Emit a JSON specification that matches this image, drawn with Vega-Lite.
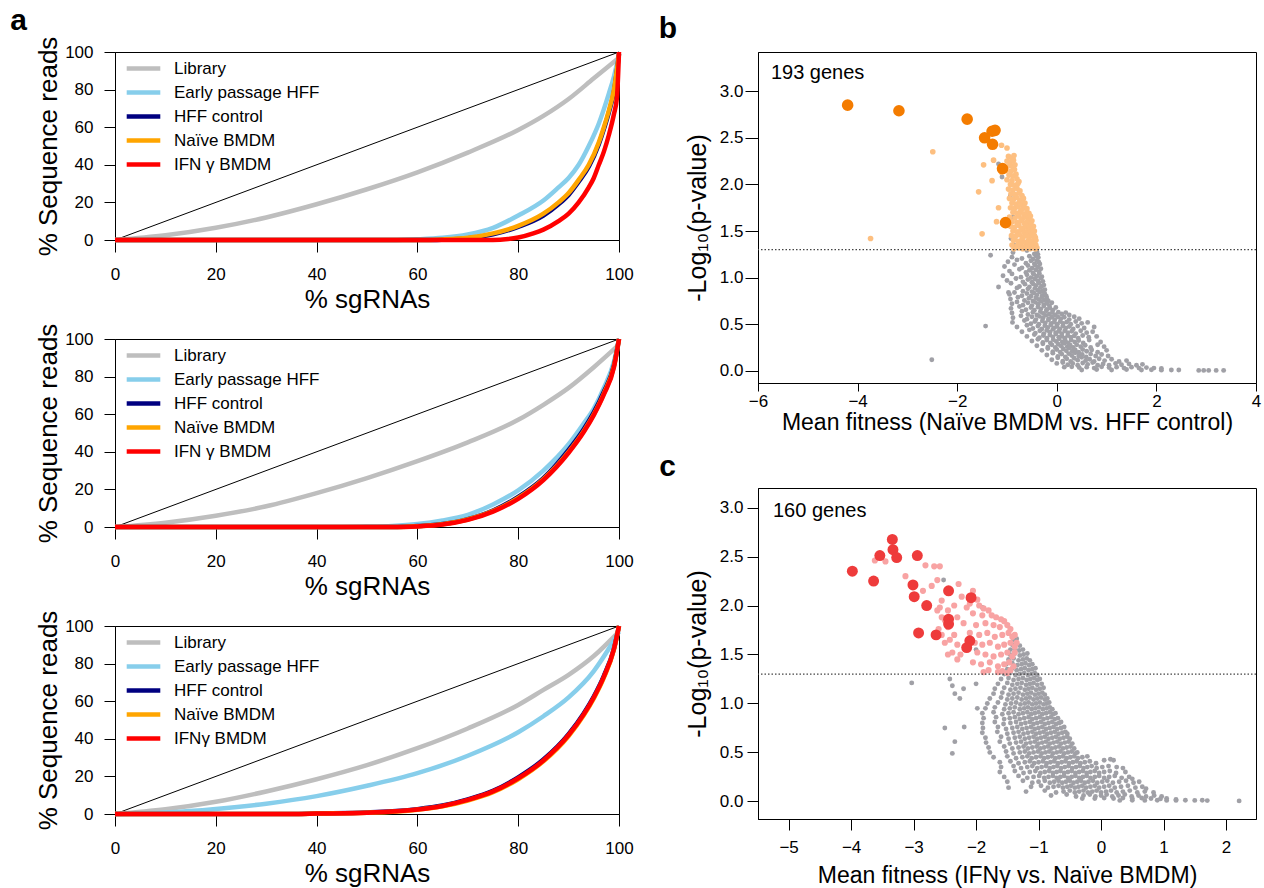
{
"$schema":"https://vega.github.io/schema/vega-lite/v6.json",
"padding":{"left":10,"top":5,"right":0,"bottom":0},
"config":{
 "font":"Liberation Sans",
 "view":{"stroke":"black","strokeWidth":1},
 "axis":{"grid":false,"domainColor":"black","tickColor":"black","labelColor":"black","titleColor":"black","titleFontWeight":"normal","labelFlush":false,"labelOverlap":false,"labelSeparation":0,"labelBound":false,"domainWidth":1,"tickWidth":1,"labelFontSize":17},
 "title":{"color":"black"}
},
"datasets":{
 "diag":[{"x":0,"y":0},{"x":100,"y":100}],
 "curves":[
  {"p":"S1","s":"Library","x":0,"y":0},{"p":"S1","s":"Library","x":10,"y":2.5},{"p":"S1","s":"Library","x":20,"y":6.5},{"p":"S1","s":"Library","x":30,"y":12},{"p":"S1","s":"Library","x":40,"y":19},{"p":"S1","s":"Library","x":50,"y":27},{"p":"S1","s":"Library","x":60,"y":36},{"p":"S1","s":"Library","x":70,"y":46.5},{"p":"S1","s":"Library","x":80,"y":58.5},{"p":"S1","s":"Library","x":85,"y":66},{"p":"S1","s":"Library","x":90,"y":75},{"p":"S1","s":"Library","x":95,"y":86},{"p":"S1","s":"Library","x":100,"y":97},
  {"p":"S1","s":"Early passage HFF","x":0,"y":0},{"p":"S1","s":"Early passage HFF","x":55,"y":0},{"p":"S1","s":"Early passage HFF","x":60,"y":0.4},{"p":"S1","s":"Early passage HFF","x":65,"y":1.2},{"p":"S1","s":"Early passage HFF","x":70,"y":3},{"p":"S1","s":"Early passage HFF","x":75,"y":6.5},{"p":"S1","s":"Early passage HFF","x":80,"y":13},{"p":"S1","s":"Early passage HFF","x":85,"y":21},{"p":"S1","s":"Early passage HFF","x":88,"y":28},{"p":"S1","s":"Early passage HFF","x":90,"y":33},{"p":"S1","s":"Early passage HFF","x":92,"y":40},{"p":"S1","s":"Early passage HFF","x":94,"y":50},{"p":"S1","s":"Early passage HFF","x":96,"y":62},{"p":"S1","s":"Early passage HFF","x":98,"y":78},{"p":"S1","s":"Early passage HFF","x":99,"y":87},{"p":"S1","s":"Early passage HFF","x":100,"y":99},
  {"p":"S1","s":"HFF control","x":0,"y":0},{"p":"S1","s":"HFF control","x":62,"y":0},{"p":"S1","s":"HFF control","x":66,"y":0.3},{"p":"S1","s":"HFF control","x":70,"y":1},{"p":"S1","s":"HFF control","x":75,"y":3},{"p":"S1","s":"HFF control","x":80,"y":7},{"p":"S1","s":"HFF control","x":85,"y":13},{"p":"S1","s":"HFF control","x":88,"y":19},{"p":"S1","s":"HFF control","x":90,"y":24},{"p":"S1","s":"HFF control","x":92,"y":31},{"p":"S1","s":"HFF control","x":94,"y":39},{"p":"S1","s":"HFF control","x":96,"y":51},{"p":"S1","s":"HFF control","x":97,"y":59},{"p":"S1","s":"HFF control","x":98,"y":68},{"p":"S1","s":"HFF control","x":99,"y":79},{"p":"S1","s":"HFF control","x":100,"y":99},
  {"p":"S1","s":"Naïve BMDM","x":0,"y":0},{"p":"S1","s":"Naïve BMDM","x":60,"y":0},{"p":"S1","s":"Naïve BMDM","x":65,"y":0.3},{"p":"S1","s":"Naïve BMDM","x":70,"y":1.2},{"p":"S1","s":"Naïve BMDM","x":75,"y":3.5},{"p":"S1","s":"Naïve BMDM","x":80,"y":7.5},{"p":"S1","s":"Naïve BMDM","x":85,"y":14},{"p":"S1","s":"Naïve BMDM","x":88,"y":20},{"p":"S1","s":"Naïve BMDM","x":90,"y":25},{"p":"S1","s":"Naïve BMDM","x":92,"y":32},{"p":"S1","s":"Naïve BMDM","x":94,"y":40},{"p":"S1","s":"Naïve BMDM","x":96,"y":52},{"p":"S1","s":"Naïve BMDM","x":97,"y":60},{"p":"S1","s":"Naïve BMDM","x":98,"y":69},{"p":"S1","s":"Naïve BMDM","x":99,"y":80},{"p":"S1","s":"Naïve BMDM","x":100,"y":99},
  {"p":"S1","s":"IFN γ BMDM","x":0,"y":0},{"p":"S1","s":"IFN γ BMDM","x":75,"y":0},{"p":"S1","s":"IFN γ BMDM","x":78,"y":0.5},{"p":"S1","s":"IFN γ BMDM","x":80,"y":1.3},{"p":"S1","s":"IFN γ BMDM","x":83,"y":3.5},{"p":"S1","s":"IFN γ BMDM","x":85,"y":5.5},{"p":"S1","s":"IFN γ BMDM","x":88,"y":10},{"p":"S1","s":"IFN γ BMDM","x":90,"y":14},{"p":"S1","s":"IFN γ BMDM","x":92,"y":20},{"p":"S1","s":"IFN γ BMDM","x":94,"y":28},{"p":"S1","s":"IFN γ BMDM","x":95,"y":33},{"p":"S1","s":"IFN γ BMDM","x":96,"y":40},{"p":"S1","s":"IFN γ BMDM","x":97,"y":47},{"p":"S1","s":"IFN γ BMDM","x":98,"y":56},{"p":"S1","s":"IFN γ BMDM","x":99,"y":67},{"p":"S1","s":"IFN γ BMDM","x":99.6,"y":76},{"p":"S1","s":"IFN γ BMDM","x":100,"y":100},

  {"p":"S2","s":"Library","x":0,"y":0},{"p":"S2","s":"Library","x":10,"y":2.3},{"p":"S2","s":"Library","x":20,"y":6},{"p":"S2","s":"Library","x":30,"y":11},{"p":"S2","s":"Library","x":40,"y":18},{"p":"S2","s":"Library","x":50,"y":26},{"p":"S2","s":"Library","x":60,"y":35},{"p":"S2","s":"Library","x":70,"y":45},{"p":"S2","s":"Library","x":80,"y":57},{"p":"S2","s":"Library","x":85,"y":65},{"p":"S2","s":"Library","x":90,"y":74},{"p":"S2","s":"Library","x":95,"y":85},{"p":"S2","s":"Library","x":100,"y":97},
  {"p":"S2","s":"Early passage HFF","x":0,"y":0},{"p":"S2","s":"Early passage HFF","x":45,"y":0},{"p":"S2","s":"Early passage HFF","x":50,"y":0.2},{"p":"S2","s":"Early passage HFF","x":55,"y":0.6},{"p":"S2","s":"Early passage HFF","x":60,"y":1.6},{"p":"S2","s":"Early passage HFF","x":65,"y":3.5},{"p":"S2","s":"Early passage HFF","x":70,"y":6.5},{"p":"S2","s":"Early passage HFF","x":75,"y":12},{"p":"S2","s":"Early passage HFF","x":80,"y":19.5},{"p":"S2","s":"Early passage HFF","x":85,"y":30},{"p":"S2","s":"Early passage HFF","x":90,"y":44},{"p":"S2","s":"Early passage HFF","x":93,"y":55},{"p":"S2","s":"Early passage HFF","x":95,"y":63},{"p":"S2","s":"Early passage HFF","x":97,"y":74},{"p":"S2","s":"Early passage HFF","x":99,"y":88},{"p":"S2","s":"Early passage HFF","x":100,"y":100},
  {"p":"S2","s":"HFF control","x":0,"y":0},{"p":"S2","s":"HFF control","x":55,"y":0},{"p":"S2","s":"HFF control","x":60,"y":0.5},{"p":"S2","s":"HFF control","x":65,"y":1.6},{"p":"S2","s":"HFF control","x":70,"y":4.2},{"p":"S2","s":"HFF control","x":75,"y":8.8},{"p":"S2","s":"HFF control","x":80,"y":16},{"p":"S2","s":"HFF control","x":85,"y":26},{"p":"S2","s":"HFF control","x":90,"y":41},{"p":"S2","s":"HFF control","x":93,"y":52},{"p":"S2","s":"HFF control","x":95,"y":61},{"p":"S2","s":"HFF control","x":97,"y":72},{"p":"S2","s":"HFF control","x":99,"y":86},{"p":"S2","s":"HFF control","x":100,"y":100},
  {"p":"S2","s":"Naïve BMDM","x":0,"y":0},{"p":"S2","s":"Naïve BMDM","x":56,"y":0},{"p":"S2","s":"Naïve BMDM","x":60,"y":0.4},{"p":"S2","s":"Naïve BMDM","x":65,"y":1.5},{"p":"S2","s":"Naïve BMDM","x":70,"y":4},{"p":"S2","s":"Naïve BMDM","x":75,"y":8.5},{"p":"S2","s":"Naïve BMDM","x":80,"y":15.5},{"p":"S2","s":"Naïve BMDM","x":85,"y":25.5},{"p":"S2","s":"Naïve BMDM","x":90,"y":40},{"p":"S2","s":"Naïve BMDM","x":93,"y":51},{"p":"S2","s":"Naïve BMDM","x":95,"y":60},{"p":"S2","s":"Naïve BMDM","x":97,"y":71},{"p":"S2","s":"Naïve BMDM","x":99,"y":85.5},{"p":"S2","s":"Naïve BMDM","x":100,"y":100},
  {"p":"S2","s":"IFN γ BMDM","x":0,"y":0},{"p":"S2","s":"IFN γ BMDM","x":57,"y":0},{"p":"S2","s":"IFN γ BMDM","x":60,"y":0.3},{"p":"S2","s":"IFN γ BMDM","x":65,"y":1.3},{"p":"S2","s":"IFN γ BMDM","x":70,"y":3.8},{"p":"S2","s":"IFN γ BMDM","x":75,"y":8.2},{"p":"S2","s":"IFN γ BMDM","x":80,"y":15},{"p":"S2","s":"IFN γ BMDM","x":85,"y":25},{"p":"S2","s":"IFN γ BMDM","x":90,"y":39.5},{"p":"S2","s":"IFN γ BMDM","x":93,"y":50.5},{"p":"S2","s":"IFN γ BMDM","x":95,"y":59.5},{"p":"S2","s":"IFN γ BMDM","x":97,"y":70.5},{"p":"S2","s":"IFN γ BMDM","x":99,"y":85},{"p":"S2","s":"IFN γ BMDM","x":100,"y":100},

  {"p":"S3","s":"Library","x":0,"y":0},{"p":"S3","s":"Library","x":10,"y":2.5},{"p":"S3","s":"Library","x":20,"y":6.5},{"p":"S3","s":"Library","x":30,"y":12},{"p":"S3","s":"Library","x":40,"y":18.5},{"p":"S3","s":"Library","x":50,"y":26},{"p":"S3","s":"Library","x":60,"y":35},{"p":"S3","s":"Library","x":70,"y":45.5},{"p":"S3","s":"Library","x":80,"y":58},{"p":"S3","s":"Library","x":85,"y":66},{"p":"S3","s":"Library","x":90,"y":74},{"p":"S3","s":"Library","x":95,"y":84},{"p":"S3","s":"Library","x":100,"y":97},
  {"p":"S3","s":"Early passage HFF","x":0,"y":0},{"p":"S3","s":"Early passage HFF","x":10,"y":0.8},{"p":"S3","s":"Early passage HFF","x":20,"y":2.7},{"p":"S3","s":"Early passage HFF","x":30,"y":5.5},{"p":"S3","s":"Early passage HFF","x":40,"y":9.5},{"p":"S3","s":"Early passage HFF","x":50,"y":15},{"p":"S3","s":"Early passage HFF","x":60,"y":21.7},{"p":"S3","s":"Early passage HFF","x":70,"y":31},{"p":"S3","s":"Early passage HFF","x":80,"y":43.5},{"p":"S3","s":"Early passage HFF","x":85,"y":52},{"p":"S3","s":"Early passage HFF","x":90,"y":62},{"p":"S3","s":"Early passage HFF","x":95,"y":76},{"p":"S3","s":"Early passage HFF","x":98,"y":88},{"p":"S3","s":"Early passage HFF","x":100,"y":97},
  {"p":"S3","s":"HFF control","x":0,"y":0},{"p":"S3","s":"HFF control","x":35,"y":0},{"p":"S3","s":"HFF control","x":40,"y":0.25},{"p":"S3","s":"HFF control","x":50,"y":0.8},{"p":"S3","s":"HFF control","x":55,"y":1.4},{"p":"S3","s":"HFF control","x":60,"y":2.6},{"p":"S3","s":"HFF control","x":65,"y":4.5},{"p":"S3","s":"HFF control","x":70,"y":7.8},{"p":"S3","s":"HFF control","x":75,"y":12.3},{"p":"S3","s":"HFF control","x":80,"y":19.5},{"p":"S3","s":"HFF control","x":85,"y":29},{"p":"S3","s":"HFF control","x":90,"y":42.5},{"p":"S3","s":"HFF control","x":93,"y":53.5},{"p":"S3","s":"HFF control","x":95,"y":62.5},{"p":"S3","s":"HFF control","x":97,"y":73.5},{"p":"S3","s":"HFF control","x":99,"y":88},{"p":"S3","s":"HFF control","x":100,"y":100},
  {"p":"S3","s":"Naïve BMDM","x":0,"y":0},{"p":"S3","s":"Naïve BMDM","x":36,"y":0},{"p":"S3","s":"Naïve BMDM","x":40,"y":0.2},{"p":"S3","s":"Naïve BMDM","x":50,"y":0.7},{"p":"S3","s":"Naïve BMDM","x":55,"y":1.2},{"p":"S3","s":"Naïve BMDM","x":60,"y":2.3},{"p":"S3","s":"Naïve BMDM","x":65,"y":4.1},{"p":"S3","s":"Naïve BMDM","x":70,"y":7.2},{"p":"S3","s":"Naïve BMDM","x":75,"y":11.6},{"p":"S3","s":"Naïve BMDM","x":80,"y":18.5},{"p":"S3","s":"Naïve BMDM","x":85,"y":28},{"p":"S3","s":"Naïve BMDM","x":90,"y":41.5},{"p":"S3","s":"Naïve BMDM","x":93,"y":52.5},{"p":"S3","s":"Naïve BMDM","x":95,"y":61.5},{"p":"S3","s":"Naïve BMDM","x":97,"y":72.5},{"p":"S3","s":"Naïve BMDM","x":99,"y":87.5},{"p":"S3","s":"Naïve BMDM","x":100,"y":100},
  {"p":"S3","s":"IFNγ BMDM","x":0,"y":0},{"p":"S3","s":"IFNγ BMDM","x":36,"y":0},{"p":"S3","s":"IFNγ BMDM","x":40,"y":0.2},{"p":"S3","s":"IFNγ BMDM","x":50,"y":0.7},{"p":"S3","s":"IFNγ BMDM","x":55,"y":1.3},{"p":"S3","s":"IFNγ BMDM","x":60,"y":2.4},{"p":"S3","s":"IFNγ BMDM","x":65,"y":4.3},{"p":"S3","s":"IFNγ BMDM","x":70,"y":7.5},{"p":"S3","s":"IFNγ BMDM","x":75,"y":12},{"p":"S3","s":"IFNγ BMDM","x":80,"y":19},{"p":"S3","s":"IFNγ BMDM","x":85,"y":28.5},{"p":"S3","s":"IFNγ BMDM","x":90,"y":42},{"p":"S3","s":"IFNγ BMDM","x":93,"y":53},{"p":"S3","s":"IFNγ BMDM","x":95,"y":62},{"p":"S3","s":"IFNγ BMDM","x":97,"y":73},{"p":"S3","s":"IFNγ BMDM","x":99,"y":87.8},{"p":"S3","s":"IFNγ BMDM","x":100,"y":100}
 ],
 "b":[
  {"x":-0.88,"y":1.27,"k":"g"},{"x":-0.6,"y":1.29,"k":"g"},{"x":-0.45,"y":1.255,"k":"g"},{"x":-0.4,"y":1.28,"k":"g"},{"x":-0.38,"y":1.25,"k":"g"},
  {"x":-1.33,"y":1.24,"k":"g"},{"x":-0.9,"y":1.22,"k":"g"},{"x":-0.7,"y":1.205,"k":"g"},{"x":-0.55,"y":1.23,"k":"g"},{"x":-0.48,"y":1.2,"k":"g"},{"x":-0.42,"y":1.235,"k":"g"},{"x":-0.37,"y":1.215,"k":"g"},
  {"x":-0.98,"y":1.17,"k":"g"},{"x":-0.8,"y":1.19,"k":"g"},{"x":-0.62,"y":1.155,"k":"g"},{"x":-0.52,"y":1.18,"k":"g"},{"x":-0.45,"y":1.15,"k":"g"},{"x":-0.4,"y":1.185,"k":"g"},{"x":-0.36,"y":1.165,"k":"g"},
  {"x":-1.05,"y":1.12,"k":"g"},{"x":-0.85,"y":1.14,"k":"g"},{"x":-0.7,"y":1.105,"k":"g"},{"x":-0.58,"y":1.13,"k":"g"},{"x":-0.5,"y":1.1,"k":"g"},{"x":-0.44,"y":1.135,"k":"g"},{"x":-0.38,"y":1.115,"k":"g"},{"x":-0.34,"y":1.145,"k":"g"},
  {"x":-0.95,"y":1.07,"k":"g"},{"x":-0.75,"y":1.09,"k":"g"},{"x":-0.62,"y":1.055,"k":"g"},{"x":-0.55,"y":1.08,"k":"g"},{"x":-0.48,"y":1.05,"k":"g"},{"x":-0.42,"y":1.085,"k":"g"},{"x":-0.36,"y":1.065,"k":"g"},{"x":-0.32,"y":1.095,"k":"g"},
  {"x":-1.08,"y":1.02,"k":"g"},{"x":-0.9,"y":1.04,"k":"g"},{"x":-0.72,"y":1.005,"k":"g"},{"x":-0.6,"y":1.03,"k":"g"},{"x":-0.52,"y":1.0,"k":"g"},{"x":-0.46,"y":1.035,"k":"g"},{"x":-0.4,"y":1.015,"k":"g"},{"x":-0.35,"y":1.045,"k":"g"},{"x":-0.3,"y":1.01,"k":"g"},
  {"x":-1.0,"y":0.97,"k":"g"},{"x":-0.82,"y":0.99,"k":"g"},{"x":-0.68,"y":0.955,"k":"g"},{"x":-0.58,"y":0.98,"k":"g"},{"x":-0.5,"y":0.95,"k":"g"},{"x":-0.44,"y":0.985,"k":"g"},{"x":-0.38,"y":0.965,"k":"g"},{"x":-0.32,"y":0.995,"k":"g"},{"x":-0.28,"y":0.96,"k":"g"},
  {"x":-1.17,"y":0.9,"k":"g"},{"x":-0.92,"y":0.94,"k":"g"},{"x":-0.75,"y":0.905,"k":"g"},{"x":-0.64,"y":0.93,"k":"g"},{"x":-0.55,"y":0.9,"k":"g"},{"x":-0.48,"y":0.935,"k":"g"},{"x":-0.42,"y":0.915,"k":"g"},{"x":-0.36,"y":0.945,"k":"g"},{"x":-0.3,"y":0.91,"k":"g"},{"x":-0.26,"y":0.92,"k":"g"},
  {"x":-0.97,"y":0.84,"k":"g"},{"x":-0.8,"y":0.89,"k":"g"},{"x":-0.68,"y":0.855,"k":"g"},{"x":-0.58,"y":0.88,"k":"g"},{"x":-0.5,"y":0.85,"k":"g"},{"x":-0.44,"y":0.885,"k":"g"},{"x":-0.38,"y":0.865,"k":"g"},{"x":-0.33,"y":0.895,"k":"g"},{"x":-0.28,"y":0.86,"k":"g"},{"x":-0.24,"y":0.87,"k":"g"},
  {"x":-0.95,"y":0.82,"k":"g"},{"x":-0.85,"y":0.84,"k":"g"},{"x":-0.7,"y":0.805,"k":"g"},{"x":-0.6,"y":0.83,"k":"g"},{"x":-0.52,"y":0.8,"k":"g"},{"x":-0.46,"y":0.835,"k":"g"},{"x":-0.4,"y":0.815,"k":"g"},{"x":-0.34,"y":0.845,"k":"g"},{"x":-0.29,"y":0.81,"k":"g"},{"x":-0.24,"y":0.825,"k":"g"},{"x":-0.21,"y":0.8,"k":"g"},
  {"x":-0.93,"y":0.77,"k":"g"},{"x":-0.78,"y":0.79,"k":"g"},{"x":-0.65,"y":0.755,"k":"g"},{"x":-0.56,"y":0.78,"k":"g"},{"x":-0.48,"y":0.75,"k":"g"},{"x":-0.42,"y":0.785,"k":"g"},{"x":-0.36,"y":0.765,"k":"g"},{"x":-0.3,"y":0.795,"k":"g"},{"x":-0.25,"y":0.76,"k":"g"},{"x":-0.2,"y":0.775,"k":"g"},{"x":-0.17,"y":0.75,"k":"g"},
  {"x":-0.9,"y":0.72,"k":"g"},{"x":-0.8,"y":0.74,"k":"g"},{"x":-0.68,"y":0.705,"k":"g"},{"x":-0.58,"y":0.73,"k":"g"},{"x":-0.5,"y":0.7,"k":"g"},{"x":-0.43,"y":0.735,"k":"g"},{"x":-0.37,"y":0.715,"k":"g"},{"x":-0.31,"y":0.745,"k":"g"},{"x":-0.26,"y":0.71,"k":"g"},{"x":-0.2,"y":0.725,"k":"g"},{"x":-0.15,"y":0.7,"k":"g"},{"x":-0.1,"y":0.73,"k":"g"},
  {"x":-0.92,"y":0.67,"k":"g"},{"x":-0.75,"y":0.69,"k":"g"},{"x":-0.62,"y":0.655,"k":"g"},{"x":-0.52,"y":0.68,"k":"g"},{"x":-0.45,"y":0.65,"k":"g"},{"x":-0.38,"y":0.685,"k":"g"},{"x":-0.32,"y":0.665,"k":"g"},{"x":-0.26,"y":0.695,"k":"g"},{"x":-0.2,"y":0.66,"k":"g"},{"x":-0.14,"y":0.675,"k":"g"},{"x":-0.08,"y":0.65,"k":"g"},{"x":-0.02,"y":0.68,"k":"g"},
  {"x":-0.9,"y":0.62,"k":"g"},{"x":-0.7,"y":0.64,"k":"g"},{"x":-0.58,"y":0.605,"k":"g"},{"x":-0.48,"y":0.63,"k":"g"},{"x":-0.4,"y":0.6,"k":"g"},{"x":-0.33,"y":0.635,"k":"g"},{"x":-0.27,"y":0.615,"k":"g"},{"x":-0.21,"y":0.645,"k":"g"},{"x":-0.15,"y":0.61,"k":"g"},{"x":-0.09,"y":0.625,"k":"g"},{"x":-0.03,"y":0.6,"k":"g"},{"x":0.03,"y":0.63,"k":"g"},{"x":0.1,"y":0.61,"k":"g"},{"x":0.18,"y":0.625,"k":"g"},{"x":0.25,"y":0.6,"k":"g"},
  {"x":-0.88,"y":0.57,"k":"g"},{"x":-0.72,"y":0.59,"k":"g"},{"x":-0.6,"y":0.555,"k":"g"},{"x":-0.5,"y":0.58,"k":"g"},{"x":-0.42,"y":0.55,"k":"g"},{"x":-0.35,"y":0.585,"k":"g"},{"x":-0.28,"y":0.565,"k":"g"},{"x":-0.22,"y":0.595,"k":"g"},{"x":-0.16,"y":0.56,"k":"g"},{"x":-0.1,"y":0.575,"k":"g"},{"x":-0.04,"y":0.55,"k":"g"},{"x":0.02,"y":0.58,"k":"g"},{"x":0.08,"y":0.56,"k":"g"},{"x":0.15,"y":0.575,"k":"g"},{"x":0.25,"y":0.55,"k":"g"},{"x":0.35,"y":0.58,"k":"g"},{"x":0.45,"y":0.56,"k":"g"},
  {"x":-0.89,"y":0.52,"k":"g"},{"x":-0.65,"y":0.54,"k":"g"},{"x":-0.52,"y":0.505,"k":"g"},{"x":-0.44,"y":0.53,"k":"g"},{"x":-0.36,"y":0.5,"k":"g"},{"x":-0.29,"y":0.535,"k":"g"},{"x":-0.23,"y":0.515,"k":"g"},{"x":-0.17,"y":0.545,"k":"g"},{"x":-0.11,"y":0.51,"k":"g"},{"x":-0.05,"y":0.525,"k":"g"},{"x":0.01,"y":0.5,"k":"g"},{"x":0.07,"y":0.53,"k":"g"},{"x":0.13,"y":0.51,"k":"g"},{"x":0.2,"y":0.525,"k":"g"},{"x":0.28,"y":0.5,"k":"g"},{"x":0.38,"y":0.53,"k":"g"},{"x":0.5,"y":0.51,"k":"g"},{"x":0.62,"y":0.52,"k":"g"},
  {"x":-1.43,"y":0.48,"k":"g"},{"x":-0.8,"y":0.47,"k":"g"},{"x":-0.6,"y":0.49,"k":"g"},{"x":-0.48,"y":0.455,"k":"g"},{"x":-0.38,"y":0.48,"k":"g"},{"x":-0.3,"y":0.45,"k":"g"},{"x":-0.24,"y":0.485,"k":"g"},{"x":-0.18,"y":0.465,"k":"g"},{"x":-0.12,"y":0.495,"k":"g"},{"x":-0.06,"y":0.46,"k":"g"},{"x":0.0,"y":0.475,"k":"g"},{"x":0.06,"y":0.45,"k":"g"},{"x":0.12,"y":0.48,"k":"g"},{"x":0.18,"y":0.46,"k":"g"},{"x":0.25,"y":0.475,"k":"g"},{"x":0.33,"y":0.45,"k":"g"},{"x":0.42,"y":0.48,"k":"g"},{"x":0.55,"y":0.46,"k":"g"},{"x":0.75,"y":0.47,"k":"g"},
  {"x":-0.7,"y":0.42,"k":"g"},{"x":-0.55,"y":0.44,"k":"g"},{"x":-0.43,"y":0.405,"k":"g"},{"x":-0.34,"y":0.43,"k":"g"},{"x":-0.26,"y":0.4,"k":"g"},{"x":-0.2,"y":0.435,"k":"g"},{"x":-0.14,"y":0.415,"k":"g"},{"x":-0.08,"y":0.445,"k":"g"},{"x":-0.02,"y":0.41,"k":"g"},{"x":0.04,"y":0.425,"k":"g"},{"x":0.1,"y":0.4,"k":"g"},{"x":0.16,"y":0.43,"k":"g"},{"x":0.22,"y":0.41,"k":"g"},{"x":0.3,"y":0.425,"k":"g"},{"x":0.38,"y":0.4,"k":"g"},{"x":0.48,"y":0.43,"k":"g"},{"x":0.6,"y":0.41,"k":"g"},{"x":0.72,"y":0.42,"k":"g"},
  {"x":-0.6,"y":0.37,"k":"g"},{"x":-0.45,"y":0.39,"k":"g"},{"x":-0.35,"y":0.355,"k":"g"},{"x":-0.27,"y":0.38,"k":"g"},{"x":-0.2,"y":0.35,"k":"g"},{"x":-0.14,"y":0.385,"k":"g"},{"x":-0.08,"y":0.365,"k":"g"},{"x":-0.02,"y":0.395,"k":"g"},{"x":0.04,"y":0.36,"k":"g"},{"x":0.1,"y":0.375,"k":"g"},{"x":0.16,"y":0.35,"k":"g"},{"x":0.22,"y":0.38,"k":"g"},{"x":0.28,"y":0.36,"k":"g"},{"x":0.35,"y":0.375,"k":"g"},{"x":0.43,"y":0.35,"k":"g"},{"x":0.52,"y":0.38,"k":"g"},{"x":0.64,"y":0.36,"k":"g"},{"x":0.8,"y":0.37,"k":"g"},
  {"x":-0.5,"y":0.32,"k":"g"},{"x":-0.38,"y":0.34,"k":"g"},{"x":-0.28,"y":0.305,"k":"g"},{"x":-0.2,"y":0.33,"k":"g"},{"x":-0.13,"y":0.3,"k":"g"},{"x":-0.07,"y":0.335,"k":"g"},{"x":-0.01,"y":0.315,"k":"g"},{"x":0.05,"y":0.345,"k":"g"},{"x":0.11,"y":0.31,"k":"g"},{"x":0.17,"y":0.325,"k":"g"},{"x":0.23,"y":0.3,"k":"g"},{"x":0.29,"y":0.33,"k":"g"},{"x":0.36,"y":0.31,"k":"g"},{"x":0.44,"y":0.325,"k":"g"},{"x":0.53,"y":0.3,"k":"g"},{"x":0.65,"y":0.33,"k":"g"},{"x":0.88,"y":0.31,"k":"g"},
  {"x":-0.4,"y":0.27,"k":"g"},{"x":-0.28,"y":0.29,"k":"g"},{"x":-0.18,"y":0.255,"k":"g"},{"x":-0.1,"y":0.28,"k":"g"},{"x":-0.03,"y":0.25,"k":"g"},{"x":0.03,"y":0.285,"k":"g"},{"x":0.09,"y":0.265,"k":"g"},{"x":0.15,"y":0.295,"k":"g"},{"x":0.21,"y":0.26,"k":"g"},{"x":0.27,"y":0.275,"k":"g"},{"x":0.33,"y":0.25,"k":"g"},{"x":0.4,"y":0.28,"k":"g"},{"x":0.48,"y":0.26,"k":"g"},{"x":0.57,"y":0.275,"k":"g"},{"x":0.68,"y":0.25,"k":"g"},{"x":0.82,"y":0.28,"k":"g"},{"x":0.95,"y":0.26,"k":"g"},
  {"x":-0.3,"y":0.22,"k":"g"},{"x":-0.18,"y":0.24,"k":"g"},{"x":-0.08,"y":0.205,"k":"g"},{"x":0.0,"y":0.23,"k":"g"},{"x":0.07,"y":0.2,"k":"g"},{"x":0.13,"y":0.235,"k":"g"},{"x":0.19,"y":0.215,"k":"g"},{"x":0.25,"y":0.245,"k":"g"},{"x":0.31,"y":0.21,"k":"g"},{"x":0.37,"y":0.225,"k":"g"},{"x":0.44,"y":0.2,"k":"g"},{"x":0.52,"y":0.23,"k":"g"},{"x":0.6,"y":0.21,"k":"g"},{"x":0.7,"y":0.225,"k":"g"},{"x":0.82,"y":0.2,"k":"g"},{"x":1.0,"y":0.22,"k":"g"},
  {"x":-0.2,"y":0.17,"k":"g"},{"x":-0.08,"y":0.19,"k":"g"},{"x":0.02,"y":0.155,"k":"g"},{"x":0.1,"y":0.18,"k":"g"},{"x":0.17,"y":0.15,"k":"g"},{"x":0.24,"y":0.185,"k":"g"},{"x":0.3,"y":0.165,"k":"g"},{"x":0.37,"y":0.195,"k":"g"},{"x":0.44,"y":0.16,"k":"g"},{"x":0.51,"y":0.175,"k":"g"},{"x":0.59,"y":0.15,"k":"g"},{"x":0.68,"y":0.18,"k":"g"},{"x":0.78,"y":0.16,"k":"g"},{"x":0.9,"y":0.175,"k":"g"},{"x":1.03,"y":0.16,"k":"g"},
  {"x":-2.51,"y":0.12,"k":"g"},{"x":-0.1,"y":0.12,"k":"g"},{"x":0.02,"y":0.14,"k":"g"},{"x":0.12,"y":0.105,"k":"g"},{"x":0.2,"y":0.13,"k":"g"},{"x":0.28,"y":0.1,"k":"g"},{"x":0.35,"y":0.135,"k":"g"},{"x":0.42,"y":0.115,"k":"g"},{"x":0.5,"y":0.145,"k":"g"},{"x":0.58,"y":0.11,"k":"g"},{"x":0.66,"y":0.125,"k":"g"},{"x":0.75,"y":0.1,"k":"g"},{"x":0.85,"y":0.13,"k":"g"},{"x":0.96,"y":0.11,"k":"g"},{"x":1.1,"y":0.125,"k":"g"},{"x":1.25,"y":0.1,"k":"g"},{"x":1.4,"y":0.11,"k":"g"},
  {"x":0.0,"y":0.08,"k":"g"},{"x":0.12,"y":0.09,"k":"g"},{"x":0.22,"y":0.065,"k":"g"},{"x":0.32,"y":0.08,"k":"g"},{"x":0.42,"y":0.06,"k":"g"},{"x":0.52,"y":0.085,"k":"g"},{"x":0.62,"y":0.07,"k":"g"},{"x":0.72,"y":0.09,"k":"g"},{"x":0.82,"y":0.06,"k":"g"},{"x":0.93,"y":0.075,"k":"g"},{"x":1.05,"y":0.06,"k":"g"},{"x":1.18,"y":0.08,"k":"g"},{"x":1.3,"y":0.065,"k":"g"},{"x":1.45,"y":0.075,"k":"g"},{"x":1.6,"y":0.06,"k":"g"},{"x":1.72,"y":0.07,"k":"g"},
  {"x":0.15,"y":0.04,"k":"g"},{"x":0.3,"y":0.045,"k":"g"},{"x":0.45,"y":0.035,"k":"g"},{"x":0.6,"y":0.04,"k":"g"},{"x":0.75,"y":0.03,"k":"g"},{"x":0.9,"y":0.045,"k":"g"},{"x":1.05,"y":0.035,"k":"g"},{"x":1.2,"y":0.04,"k":"g"},{"x":1.35,"y":0.03,"k":"g"},{"x":1.5,"y":0.04,"k":"g"},{"x":1.65,"y":0.03,"k":"g"},{"x":1.8,"y":0.035,"k":"g"},{"x":1.95,"y":0.03,"k":"g"},{"x":2.1,"y":0.025,"k":"g"},
  {"x":0.5,"y":0.01,"k":"g"},{"x":0.8,"y":0.015,"k":"g"},{"x":1.1,"y":0.01,"k":"g"},{"x":1.4,"y":0.015,"k":"g"},{"x":1.7,"y":0.01,"k":"g"},{"x":1.9,"y":0.012,"k":"g"},{"x":2.1,"y":0.008,"k":"g"},{"x":2.3,"y":0.01,"k":"g"},{"x":2.45,"y":0.01,"k":"g"},{"x":2.85,"y":0.005,"k":"g"},{"x":2.95,"y":0.005,"k":"g"},{"x":3.05,"y":0.005,"k":"g"},{"x":3.2,"y":0.005,"k":"g"},{"x":3.35,"y":0.005,"k":"g"},
  {"x":-1.17,"y":2.22,"k":"g"},{"x":-1.1,"y":2.08,"k":"g"},{"x":-0.93,"y":1.88,"k":"g"},{"x":-0.88,"y":1.65,"k":"g"},{"x":-0.92,"y":1.42,"k":"g"},{"x":-0.86,"y":1.35,"k":"g"},
  {"x":-3.74,"y":1.42,"k":"l"},{"x":-2.49,"y":2.35,"k":"l"},{"x":-1.47,"y":2.21,"k":"l"},{"x":-1.57,"y":1.92,"k":"l"},{"x":-1.3,"y":2.04,"k":"l"},{"x":-1.5,"y":1.47,"k":"l"},{"x":-1.17,"y":1.75,"k":"l"},{"x":-1.21,"y":1.6,"k":"l"},{"x":-1.11,"y":2.42,"k":"l"},{"x":-1.0,"y":2.39,"k":"l"},{"x":-1.27,"y":2.26,"k":"l"},{"x":-1.11,"y":2.13,"k":"l"},
  {"x":-0.97,"y":2.3,"k":"l"},{"x":-0.9,"y":2.28,"k":"l"},{"x":-0.86,"y":2.31,"k":"l"},
  {"x":-1.0,"y":2.25,"k":"l"},{"x":-0.93,"y":2.24,"k":"l"},{"x":-0.87,"y":2.26,"k":"l"},
  {"x":-0.95,"y":2.2,"k":"l"},{"x":-0.88,"y":2.19,"k":"l"},{"x":-0.84,"y":2.21,"k":"l"},
  {"x":-1.02,"y":2.15,"k":"l"},{"x":-0.92,"y":2.14,"k":"l"},{"x":-0.85,"y":2.16,"k":"l"},
  {"x":-0.96,"y":2.1,"k":"l"},{"x":-0.88,"y":2.09,"k":"l"},{"x":-0.82,"y":2.11,"k":"l"},
  {"x":-1.0,"y":2.05,"k":"l"},{"x":-0.9,"y":2.04,"k":"l"},{"x":-0.8,"y":2.06,"k":"l"},{"x":-0.76,"y":2.03,"k":"l"},
  {"x":-0.93,"y":2.0,"k":"l"},{"x":-0.85,"y":1.99,"k":"l"},{"x":-0.78,"y":2.01,"k":"l"},
  {"x":-0.97,"y":1.95,"k":"l"},{"x":-0.88,"y":1.94,"k":"l"},{"x":-0.8,"y":1.96,"k":"l"},{"x":-0.74,"y":1.93,"k":"l"},
  {"x":-0.92,"y":1.9,"k":"l"},{"x":-0.84,"y":1.89,"k":"l"},{"x":-0.76,"y":1.91,"k":"l"},{"x":-0.7,"y":1.88,"k":"l"},
  {"x":-0.95,"y":1.85,"k":"l"},{"x":-0.87,"y":1.84,"k":"l"},{"x":-0.8,"y":1.86,"k":"l"},{"x":-0.73,"y":1.83,"k":"l"},{"x":-0.67,"y":1.85,"k":"l"},
  {"x":-0.9,"y":1.8,"k":"l"},{"x":-0.82,"y":1.79,"k":"l"},{"x":-0.75,"y":1.81,"k":"l"},{"x":-0.69,"y":1.78,"k":"l"},{"x":-0.64,"y":1.8,"k":"l"},
  {"x":-0.93,"y":1.75,"k":"l"},{"x":-0.85,"y":1.74,"k":"l"},{"x":-0.78,"y":1.76,"k":"l"},{"x":-0.7,"y":1.73,"k":"l"},{"x":-0.64,"y":1.75,"k":"l"},{"x":-0.6,"y":1.74,"k":"l"},
  {"x":-0.88,"y":1.7,"k":"l"},{"x":-0.8,"y":1.69,"k":"l"},{"x":-0.73,"y":1.71,"k":"l"},{"x":-0.66,"y":1.68,"k":"l"},{"x":-0.6,"y":1.7,"k":"l"},{"x":-0.56,"y":1.69,"k":"l"},
  {"x":-0.95,"y":1.65,"k":"l"},{"x":-0.84,"y":1.64,"k":"l"},{"x":-0.76,"y":1.66,"k":"l"},{"x":-0.69,"y":1.63,"k":"l"},{"x":-0.62,"y":1.65,"k":"l"},{"x":-0.57,"y":1.64,"k":"l"},{"x":-0.53,"y":1.66,"k":"l"},
  {"x":-0.9,"y":1.6,"k":"l"},{"x":-0.8,"y":1.59,"k":"l"},{"x":-0.72,"y":1.61,"k":"l"},{"x":-0.65,"y":1.58,"k":"l"},{"x":-0.59,"y":1.6,"k":"l"},{"x":-0.54,"y":1.59,"k":"l"},{"x":-0.5,"y":1.61,"k":"l"},
  {"x":-0.93,"y":1.55,"k":"l"},{"x":-0.85,"y":1.54,"k":"l"},{"x":-0.76,"y":1.56,"k":"l"},{"x":-0.68,"y":1.53,"k":"l"},{"x":-0.62,"y":1.55,"k":"l"},{"x":-0.56,"y":1.54,"k":"l"},{"x":-0.51,"y":1.56,"k":"l"},{"x":-0.47,"y":1.55,"k":"l"},
  {"x":-0.88,"y":1.5,"k":"l"},{"x":-0.8,"y":1.49,"k":"l"},{"x":-0.72,"y":1.51,"k":"l"},{"x":-0.65,"y":1.48,"k":"l"},{"x":-0.59,"y":1.5,"k":"l"},{"x":-0.53,"y":1.49,"k":"l"},{"x":-0.48,"y":1.51,"k":"l"},{"x":-0.45,"y":1.5,"k":"l"},
  {"x":-0.91,"y":1.45,"k":"l"},{"x":-0.83,"y":1.44,"k":"l"},{"x":-0.75,"y":1.46,"k":"l"},{"x":-0.68,"y":1.43,"k":"l"},{"x":-0.61,"y":1.45,"k":"l"},{"x":-0.55,"y":1.44,"k":"l"},{"x":-0.5,"y":1.46,"k":"l"},{"x":-0.45,"y":1.45,"k":"l"},{"x":-0.43,"y":1.43,"k":"l"},
  {"x":-0.87,"y":1.4,"k":"l"},{"x":-0.78,"y":1.39,"k":"l"},{"x":-0.7,"y":1.41,"k":"l"},{"x":-0.63,"y":1.38,"k":"l"},{"x":-0.57,"y":1.4,"k":"l"},{"x":-0.51,"y":1.39,"k":"l"},{"x":-0.46,"y":1.41,"k":"l"},{"x":-0.42,"y":1.4,"k":"l"},
  {"x":-0.9,"y":1.35,"k":"l"},{"x":-0.8,"y":1.34,"k":"l"},{"x":-0.72,"y":1.36,"k":"l"},{"x":-0.65,"y":1.33,"k":"l"},{"x":-0.58,"y":1.35,"k":"l"},{"x":-0.52,"y":1.34,"k":"l"},{"x":-0.47,"y":1.36,"k":"l"},{"x":-0.42,"y":1.35,"k":"l"},
  {"x":-0.86,"y":1.31,"k":"l"},{"x":-0.76,"y":1.32,"k":"l"},{"x":-0.68,"y":1.31,"k":"l"},{"x":-0.6,"y":1.32,"k":"l"},{"x":-0.54,"y":1.31,"k":"l"},{"x":-0.48,"y":1.32,"k":"l"},{"x":-0.43,"y":1.31,"k":"l"},{"x":-0.4,"y":1.32,"k":"l"},
  {"x":-4.2,"y":2.85,"k":"h"},{"x":-3.17,"y":2.79,"k":"h"},{"x":-1.8,"y":2.7,"k":"h"},{"x":-1.3,"y":2.57,"k":"h"},{"x":-1.24,"y":2.58,"k":"h"},{"x":-1.45,"y":2.5,"k":"h"},{"x":-1.29,"y":2.43,"k":"h"},{"x":-1.09,"y":2.17,"k":"h"},{"x":-1.03,"y":1.59,"k":"h"}
 ],
 "c":[
  {"x":-1.4,"y":1.65,"k":"g"},{"x":-1.35,"y":1.66,"k":"g"},
  {"x":-1.42,"y":1.6,"k":"g"},{"x":-1.36,"y":1.61,"k":"g"},{"x":-1.3,"y":1.59,"k":"g"},
  {"x":-1.45,"y":1.55,"k":"g"},{"x":-1.38,"y":1.56,"k":"g"},{"x":-1.31,"y":1.54,"k":"g"},{"x":-1.25,"y":1.55,"k":"g"},
  {"x":-1.46,"y":1.5,"k":"g"},{"x":-1.38,"y":1.51,"k":"g"},{"x":-1.3,"y":1.49,"k":"g"},{"x":-1.24,"y":1.5,"k":"g"},{"x":-1.18,"y":1.51,"k":"g"},
  {"x":-1.48,"y":1.45,"k":"g"},{"x":-1.4,"y":1.46,"k":"g"},{"x":-1.32,"y":1.44,"k":"g"},{"x":-1.25,"y":1.45,"k":"g"},{"x":-1.19,"y":1.46,"k":"g"},{"x":-1.14,"y":1.44,"k":"g"},
  {"x":-1.52,"y":1.4,"k":"g"},{"x":-1.42,"y":1.41,"k":"g"},{"x":-1.34,"y":1.39,"k":"g"},{"x":-1.27,"y":1.4,"k":"g"},{"x":-1.21,"y":1.41,"k":"g"},{"x":-1.15,"y":1.39,"k":"g"},{"x":-1.1,"y":1.4,"k":"g"},
  {"x":-1.5,"y":1.35,"k":"g"},{"x":-1.42,"y":1.36,"k":"g"},{"x":-1.35,"y":1.34,"k":"g"},{"x":-1.28,"y":1.35,"k":"g"},{"x":-1.22,"y":1.36,"k":"g"},{"x":-1.16,"y":1.34,"k":"g"},{"x":-1.1,"y":1.35,"k":"g"},{"x":-1.05,"y":1.36,"k":"g"},
  {"x":-1.55,"y":1.3,"k":"g"},{"x":-1.45,"y":1.31,"k":"g"},{"x":-1.37,"y":1.29,"k":"g"},{"x":-1.3,"y":1.3,"k":"g"},{"x":-1.23,"y":1.31,"k":"g"},{"x":-1.17,"y":1.29,"k":"g"},{"x":-1.11,"y":1.3,"k":"g"},{"x":-1.06,"y":1.31,"k":"g"},{"x":-1.02,"y":1.29,"k":"g"},
  {"x":-1.6,"y":1.25,"k":"g"},{"x":-1.48,"y":1.26,"k":"g"},{"x":-1.4,"y":1.24,"k":"g"},{"x":-1.32,"y":1.25,"k":"g"},{"x":-1.25,"y":1.26,"k":"g"},{"x":-1.19,"y":1.24,"k":"g"},{"x":-1.13,"y":1.25,"k":"g"},{"x":-1.07,"y":1.26,"k":"g"},{"x":-1.02,"y":1.24,"k":"g"},{"x":-0.98,"y":1.25,"k":"g"},
  {"x":-1.65,"y":1.2,"k":"g"},{"x":-1.5,"y":1.21,"k":"g"},{"x":-1.42,"y":1.19,"k":"g"},{"x":-1.34,"y":1.2,"k":"g"},{"x":-1.27,"y":1.21,"k":"g"},{"x":-1.2,"y":1.19,"k":"g"},{"x":-1.14,"y":1.2,"k":"g"},{"x":-1.08,"y":1.21,"k":"g"},{"x":-1.02,"y":1.19,"k":"g"},{"x":-0.95,"y":1.2,"k":"g"},
  {"x":-1.7,"y":1.15,"k":"g"},{"x":-1.55,"y":1.16,"k":"g"},{"x":-1.45,"y":1.14,"k":"g"},{"x":-1.37,"y":1.15,"k":"g"},{"x":-1.29,"y":1.16,"k":"g"},{"x":-1.22,"y":1.14,"k":"g"},{"x":-1.16,"y":1.15,"k":"g"},{"x":-1.1,"y":1.16,"k":"g"},{"x":-1.04,"y":1.14,"k":"g"},{"x":-0.98,"y":1.15,"k":"g"},{"x":-0.92,"y":1.16,"k":"g"},
  {"x":-1.72,"y":1.1,"k":"g"},{"x":-1.58,"y":1.11,"k":"g"},{"x":-1.48,"y":1.09,"k":"g"},{"x":-1.4,"y":1.1,"k":"g"},{"x":-1.32,"y":1.11,"k":"g"},{"x":-1.25,"y":1.09,"k":"g"},{"x":-1.18,"y":1.1,"k":"g"},{"x":-1.12,"y":1.11,"k":"g"},{"x":-1.06,"y":1.09,"k":"g"},{"x":-1.0,"y":1.1,"k":"g"},{"x":-0.94,"y":1.11,"k":"g"},{"x":-0.9,"y":1.09,"k":"g"},
  {"x":-1.78,"y":1.05,"k":"g"},{"x":-1.6,"y":1.06,"k":"g"},{"x":-1.5,"y":1.04,"k":"g"},{"x":-1.42,"y":1.05,"k":"g"},{"x":-1.34,"y":1.06,"k":"g"},{"x":-1.27,"y":1.04,"k":"g"},{"x":-1.2,"y":1.05,"k":"g"},{"x":-1.14,"y":1.06,"k":"g"},{"x":-1.08,"y":1.04,"k":"g"},{"x":-1.02,"y":1.05,"k":"g"},{"x":-0.96,"y":1.06,"k":"g"},{"x":-0.9,"y":1.04,"k":"g"},{"x":-0.86,"y":1.05,"k":"g"},
  {"x":-1.82,"y":1.0,"k":"g"},{"x":-1.65,"y":1.01,"k":"g"},{"x":-1.53,"y":0.99,"k":"g"},{"x":-1.44,"y":1.0,"k":"g"},{"x":-1.36,"y":1.01,"k":"g"},{"x":-1.29,"y":0.99,"k":"g"},{"x":-1.22,"y":1.0,"k":"g"},{"x":-1.16,"y":1.01,"k":"g"},{"x":-1.1,"y":0.99,"k":"g"},{"x":-1.04,"y":1.0,"k":"g"},{"x":-0.98,"y":1.01,"k":"g"},{"x":-0.92,"y":0.99,"k":"g"},{"x":-0.87,"y":1.0,"k":"g"},{"x":-0.83,"y":1.01,"k":"g"},
  {"x":-1.85,"y":0.95,"k":"g"},{"x":-1.7,"y":0.96,"k":"g"},{"x":-1.55,"y":0.94,"k":"g"},{"x":-1.46,"y":0.95,"k":"g"},{"x":-1.38,"y":0.96,"k":"g"},{"x":-1.3,"y":0.94,"k":"g"},{"x":-1.23,"y":0.95,"k":"g"},{"x":-1.17,"y":0.96,"k":"g"},{"x":-1.11,"y":0.94,"k":"g"},{"x":-1.05,"y":0.95,"k":"g"},{"x":-0.99,"y":0.96,"k":"g"},{"x":-0.93,"y":0.94,"k":"g"},{"x":-0.87,"y":0.95,"k":"g"},{"x":-0.82,"y":0.96,"k":"g"},{"x":-0.78,"y":0.94,"k":"g"},
  {"x":-1.9,"y":0.9,"k":"g"},{"x":-1.72,"y":0.91,"k":"g"},{"x":-1.58,"y":0.89,"k":"g"},{"x":-1.48,"y":0.9,"k":"g"},{"x":-1.4,"y":0.91,"k":"g"},{"x":-1.32,"y":0.89,"k":"g"},{"x":-1.25,"y":0.9,"k":"g"},{"x":-1.18,"y":0.91,"k":"g"},{"x":-1.12,"y":0.89,"k":"g"},{"x":-1.06,"y":0.9,"k":"g"},{"x":-1.0,"y":0.91,"k":"g"},{"x":-0.94,"y":0.89,"k":"g"},{"x":-0.88,"y":0.9,"k":"g"},{"x":-0.82,"y":0.91,"k":"g"},{"x":-0.77,"y":0.89,"k":"g"},{"x":-0.73,"y":0.9,"k":"g"},
  {"x":-1.88,"y":0.85,"k":"g"},{"x":-1.68,"y":0.86,"k":"g"},{"x":-1.55,"y":0.84,"k":"g"},{"x":-1.46,"y":0.85,"k":"g"},{"x":-1.38,"y":0.86,"k":"g"},{"x":-1.3,"y":0.84,"k":"g"},{"x":-1.23,"y":0.85,"k":"g"},{"x":-1.16,"y":0.86,"k":"g"},{"x":-1.1,"y":0.84,"k":"g"},{"x":-1.04,"y":0.85,"k":"g"},{"x":-0.98,"y":0.86,"k":"g"},{"x":-0.92,"y":0.84,"k":"g"},{"x":-0.86,"y":0.85,"k":"g"},{"x":-0.8,"y":0.86,"k":"g"},{"x":-0.74,"y":0.84,"k":"g"},{"x":-0.69,"y":0.85,"k":"g"},
  {"x":-1.9,"y":0.8,"k":"g"},{"x":-1.7,"y":0.81,"k":"g"},{"x":-1.56,"y":0.79,"k":"g"},{"x":-1.45,"y":0.8,"k":"g"},{"x":-1.36,"y":0.81,"k":"g"},{"x":-1.28,"y":0.79,"k":"g"},{"x":-1.21,"y":0.8,"k":"g"},{"x":-1.14,"y":0.81,"k":"g"},{"x":-1.08,"y":0.79,"k":"g"},{"x":-1.02,"y":0.8,"k":"g"},{"x":-0.96,"y":0.81,"k":"g"},{"x":-0.9,"y":0.79,"k":"g"},{"x":-0.84,"y":0.8,"k":"g"},{"x":-0.78,"y":0.81,"k":"g"},{"x":-0.72,"y":0.79,"k":"g"},{"x":-0.67,"y":0.8,"k":"g"},{"x":-0.64,"y":0.81,"k":"g"},
  {"x":-1.89,"y":0.75,"k":"g"},{"x":-1.65,"y":0.76,"k":"g"},{"x":-1.52,"y":0.74,"k":"g"},{"x":-1.42,"y":0.75,"k":"g"},{"x":-1.34,"y":0.76,"k":"g"},{"x":-1.26,"y":0.74,"k":"g"},{"x":-1.19,"y":0.75,"k":"g"},{"x":-1.12,"y":0.76,"k":"g"},{"x":-1.06,"y":0.74,"k":"g"},{"x":-1.0,"y":0.75,"k":"g"},{"x":-0.94,"y":0.76,"k":"g"},{"x":-0.88,"y":0.74,"k":"g"},{"x":-0.82,"y":0.75,"k":"g"},{"x":-0.76,"y":0.76,"k":"g"},{"x":-0.7,"y":0.74,"k":"g"},{"x":-0.64,"y":0.75,"k":"g"},{"x":-0.59,"y":0.76,"k":"g"},
  {"x":-1.9,"y":0.7,"k":"g"},{"x":-1.66,"y":0.71,"k":"g"},{"x":-1.5,"y":0.69,"k":"g"},{"x":-1.4,"y":0.7,"k":"g"},{"x":-1.32,"y":0.71,"k":"g"},{"x":-1.24,"y":0.69,"k":"g"},{"x":-1.17,"y":0.7,"k":"g"},{"x":-1.1,"y":0.71,"k":"g"},{"x":-1.04,"y":0.69,"k":"g"},{"x":-0.98,"y":0.7,"k":"g"},{"x":-0.92,"y":0.71,"k":"g"},{"x":-0.86,"y":0.69,"k":"g"},{"x":-0.8,"y":0.7,"k":"g"},{"x":-0.74,"y":0.71,"k":"g"},{"x":-0.68,"y":0.69,"k":"g"},{"x":-0.62,"y":0.7,"k":"g"},{"x":-0.57,"y":0.71,"k":"g"},{"x":-0.54,"y":0.69,"k":"g"},
  {"x":-1.85,"y":0.65,"k":"g"},{"x":-1.6,"y":0.66,"k":"g"},{"x":-1.48,"y":0.64,"k":"g"},{"x":-1.38,"y":0.65,"k":"g"},{"x":-1.3,"y":0.66,"k":"g"},{"x":-1.22,"y":0.64,"k":"g"},{"x":-1.15,"y":0.65,"k":"g"},{"x":-1.08,"y":0.66,"k":"g"},{"x":-1.02,"y":0.64,"k":"g"},{"x":-0.96,"y":0.65,"k":"g"},{"x":-0.9,"y":0.66,"k":"g"},{"x":-0.84,"y":0.64,"k":"g"},{"x":-0.78,"y":0.65,"k":"g"},{"x":-0.72,"y":0.66,"k":"g"},{"x":-0.66,"y":0.64,"k":"g"},{"x":-0.6,"y":0.65,"k":"g"},{"x":-0.54,"y":0.66,"k":"g"},{"x":-0.5,"y":0.64,"k":"g"},
  {"x":-1.84,"y":0.6,"k":"g"},{"x":-1.62,"y":0.61,"k":"g"},{"x":-1.46,"y":0.59,"k":"g"},{"x":-1.36,"y":0.6,"k":"g"},{"x":-1.28,"y":0.61,"k":"g"},{"x":-1.2,"y":0.59,"k":"g"},{"x":-1.13,"y":0.6,"k":"g"},{"x":-1.06,"y":0.61,"k":"g"},{"x":-1.0,"y":0.59,"k":"g"},{"x":-0.94,"y":0.6,"k":"g"},{"x":-0.88,"y":0.61,"k":"g"},{"x":-0.82,"y":0.59,"k":"g"},{"x":-0.76,"y":0.6,"k":"g"},{"x":-0.7,"y":0.61,"k":"g"},{"x":-0.64,"y":0.59,"k":"g"},{"x":-0.58,"y":0.6,"k":"g"},{"x":-0.52,"y":0.61,"k":"g"},{"x":-0.46,"y":0.59,"k":"g"},
  {"x":-1.8,"y":0.55,"k":"g"},{"x":-1.55,"y":0.56,"k":"g"},{"x":-1.42,"y":0.54,"k":"g"},{"x":-1.32,"y":0.55,"k":"g"},{"x":-1.24,"y":0.56,"k":"g"},{"x":-1.17,"y":0.54,"k":"g"},{"x":-1.1,"y":0.55,"k":"g"},{"x":-1.03,"y":0.56,"k":"g"},{"x":-0.97,"y":0.54,"k":"g"},{"x":-0.91,"y":0.55,"k":"g"},{"x":-0.85,"y":0.56,"k":"g"},{"x":-0.79,"y":0.54,"k":"g"},{"x":-0.73,"y":0.55,"k":"g"},{"x":-0.67,"y":0.56,"k":"g"},{"x":-0.61,"y":0.54,"k":"g"},{"x":-0.55,"y":0.55,"k":"g"},{"x":-0.49,"y":0.56,"k":"g"},{"x":-0.43,"y":0.54,"k":"g"},
  {"x":-1.78,"y":0.5,"k":"g"},{"x":-1.52,"y":0.51,"k":"g"},{"x":-1.4,"y":0.49,"k":"g"},{"x":-1.3,"y":0.5,"k":"g"},{"x":-1.22,"y":0.51,"k":"g"},{"x":-1.15,"y":0.49,"k":"g"},{"x":-1.08,"y":0.5,"k":"g"},{"x":-1.01,"y":0.51,"k":"g"},{"x":-0.95,"y":0.49,"k":"g"},{"x":-0.89,"y":0.5,"k":"g"},{"x":-0.83,"y":0.51,"k":"g"},{"x":-0.77,"y":0.49,"k":"g"},{"x":-0.71,"y":0.5,"k":"g"},{"x":-0.65,"y":0.51,"k":"g"},{"x":-0.59,"y":0.49,"k":"g"},{"x":-0.53,"y":0.5,"k":"g"},{"x":-0.47,"y":0.51,"k":"g"},{"x":-0.41,"y":0.49,"k":"g"},{"x":-0.38,"y":0.5,"k":"g"},
  {"x":-1.72,"y":0.45,"k":"g"},{"x":-1.5,"y":0.46,"k":"g"},{"x":-1.36,"y":0.44,"k":"g"},{"x":-1.26,"y":0.45,"k":"g"},{"x":-1.18,"y":0.46,"k":"g"},{"x":-1.11,"y":0.44,"k":"g"},{"x":-1.04,"y":0.45,"k":"g"},{"x":-0.97,"y":0.46,"k":"g"},{"x":-0.91,"y":0.44,"k":"g"},{"x":-0.85,"y":0.45,"k":"g"},{"x":-0.79,"y":0.46,"k":"g"},{"x":-0.73,"y":0.44,"k":"g"},{"x":-0.67,"y":0.45,"k":"g"},{"x":-0.61,"y":0.46,"k":"g"},{"x":-0.55,"y":0.44,"k":"g"},{"x":-0.49,"y":0.45,"k":"g"},{"x":-0.43,"y":0.46,"k":"g"},{"x":-0.37,"y":0.44,"k":"g"},{"x":-0.3,"y":0.45,"k":"g"},{"x":-0.22,"y":0.46,"k":"g"},
  {"x":-1.62,"y":0.4,"k":"g"},{"x":-1.45,"y":0.41,"k":"g"},{"x":-1.32,"y":0.39,"k":"g"},{"x":-1.22,"y":0.4,"k":"g"},{"x":-1.14,"y":0.41,"k":"g"},{"x":-1.07,"y":0.39,"k":"g"},{"x":-1.0,"y":0.4,"k":"g"},{"x":-0.93,"y":0.41,"k":"g"},{"x":-0.87,"y":0.39,"k":"g"},{"x":-0.81,"y":0.4,"k":"g"},{"x":-0.75,"y":0.41,"k":"g"},{"x":-0.69,"y":0.39,"k":"g"},{"x":-0.63,"y":0.4,"k":"g"},{"x":-0.57,"y":0.41,"k":"g"},{"x":-0.51,"y":0.39,"k":"g"},{"x":-0.45,"y":0.4,"k":"g"},{"x":-0.39,"y":0.41,"k":"g"},{"x":-0.33,"y":0.39,"k":"g"},{"x":-0.26,"y":0.4,"k":"g"},{"x":-0.18,"y":0.41,"k":"g"},{"x":-0.08,"y":0.39,"k":"g"},{"x":0.05,"y":0.42,"k":"g"},{"x":0.15,"y":0.43,"k":"g"},{"x":0.2,"y":0.42,"k":"g"},
  {"x":-1.6,"y":0.35,"k":"g"},{"x":-1.4,"y":0.36,"k":"g"},{"x":-1.28,"y":0.34,"k":"g"},{"x":-1.18,"y":0.35,"k":"g"},{"x":-1.1,"y":0.36,"k":"g"},{"x":-1.02,"y":0.34,"k":"g"},{"x":-0.95,"y":0.35,"k":"g"},{"x":-0.88,"y":0.36,"k":"g"},{"x":-0.82,"y":0.34,"k":"g"},{"x":-0.76,"y":0.35,"k":"g"},{"x":-0.7,"y":0.36,"k":"g"},{"x":-0.64,"y":0.34,"k":"g"},{"x":-0.58,"y":0.35,"k":"g"},{"x":-0.52,"y":0.36,"k":"g"},{"x":-0.46,"y":0.34,"k":"g"},{"x":-0.4,"y":0.35,"k":"g"},{"x":-0.34,"y":0.36,"k":"g"},{"x":-0.28,"y":0.34,"k":"g"},{"x":-0.22,"y":0.35,"k":"g"},{"x":-0.15,"y":0.36,"k":"g"},{"x":-0.07,"y":0.34,"k":"g"},{"x":0.02,"y":0.35,"k":"g"},{"x":0.12,"y":0.36,"k":"g"},{"x":0.25,"y":0.35,"k":"g"},{"x":0.35,"y":0.34,"k":"g"},
  {"x":-1.62,"y":0.3,"k":"g"},{"x":-1.38,"y":0.31,"k":"g"},{"x":-1.24,"y":0.29,"k":"g"},{"x":-1.14,"y":0.3,"k":"g"},{"x":-1.05,"y":0.31,"k":"g"},{"x":-0.97,"y":0.29,"k":"g"},{"x":-0.9,"y":0.3,"k":"g"},{"x":-0.83,"y":0.31,"k":"g"},{"x":-0.77,"y":0.29,"k":"g"},{"x":-0.71,"y":0.3,"k":"g"},{"x":-0.65,"y":0.31,"k":"g"},{"x":-0.59,"y":0.29,"k":"g"},{"x":-0.53,"y":0.3,"k":"g"},{"x":-0.47,"y":0.31,"k":"g"},{"x":-0.41,"y":0.29,"k":"g"},{"x":-0.35,"y":0.3,"k":"g"},{"x":-0.29,"y":0.31,"k":"g"},{"x":-0.23,"y":0.29,"k":"g"},{"x":-0.17,"y":0.3,"k":"g"},{"x":-0.1,"y":0.31,"k":"g"},{"x":-0.03,"y":0.29,"k":"g"},{"x":0.05,"y":0.3,"k":"g"},{"x":0.14,"y":0.31,"k":"g"},{"x":0.24,"y":0.29,"k":"g"},{"x":0.39,"y":0.3,"k":"g"},
  {"x":-1.55,"y":0.25,"k":"g"},{"x":-1.32,"y":0.26,"k":"g"},{"x":-1.18,"y":0.24,"k":"g"},{"x":-1.08,"y":0.25,"k":"g"},{"x":-0.99,"y":0.26,"k":"g"},{"x":-0.91,"y":0.24,"k":"g"},{"x":-0.84,"y":0.25,"k":"g"},{"x":-0.77,"y":0.26,"k":"g"},{"x":-0.71,"y":0.24,"k":"g"},{"x":-0.65,"y":0.25,"k":"g"},{"x":-0.59,"y":0.26,"k":"g"},{"x":-0.53,"y":0.24,"k":"g"},{"x":-0.47,"y":0.25,"k":"g"},{"x":-0.41,"y":0.26,"k":"g"},{"x":-0.35,"y":0.24,"k":"g"},{"x":-0.29,"y":0.25,"k":"g"},{"x":-0.23,"y":0.26,"k":"g"},{"x":-0.17,"y":0.24,"k":"g"},{"x":-0.1,"y":0.25,"k":"g"},{"x":-0.03,"y":0.26,"k":"g"},{"x":0.05,"y":0.24,"k":"g"},{"x":0.13,"y":0.25,"k":"g"},{"x":0.22,"y":0.26,"k":"g"},{"x":0.33,"y":0.24,"k":"g"},{"x":0.45,"y":0.25,"k":"g"},{"x":0.5,"y":0.23,"k":"g"},
  {"x":-1.5,"y":0.2,"k":"g"},{"x":-1.25,"y":0.21,"k":"g"},{"x":-1.1,"y":0.19,"k":"g"},{"x":-1.0,"y":0.2,"k":"g"},{"x":-0.9,"y":0.21,"k":"g"},{"x":-0.82,"y":0.19,"k":"g"},{"x":-0.75,"y":0.2,"k":"g"},{"x":-0.68,"y":0.21,"k":"g"},{"x":-0.62,"y":0.19,"k":"g"},{"x":-0.56,"y":0.2,"k":"g"},{"x":-0.5,"y":0.21,"k":"g"},{"x":-0.44,"y":0.19,"k":"g"},{"x":-0.38,"y":0.2,"k":"g"},{"x":-0.32,"y":0.21,"k":"g"},{"x":-0.26,"y":0.19,"k":"g"},{"x":-0.2,"y":0.2,"k":"g"},{"x":-0.13,"y":0.21,"k":"g"},{"x":-0.06,"y":0.19,"k":"g"},{"x":0.02,"y":0.2,"k":"g"},{"x":0.1,"y":0.21,"k":"g"},{"x":0.19,"y":0.19,"k":"g"},{"x":0.29,"y":0.2,"k":"g"},{"x":0.4,"y":0.21,"k":"g"},{"x":0.52,"y":0.19,"k":"g"},{"x":0.61,"y":0.2,"k":"g"},
  {"x":-1.48,"y":0.14,"k":"g"},{"x":-1.12,"y":0.15,"k":"g"},{"x":-0.96,"y":0.16,"k":"g"},{"x":-0.85,"y":0.14,"k":"g"},{"x":-0.76,"y":0.15,"k":"g"},{"x":-0.68,"y":0.16,"k":"g"},{"x":-0.61,"y":0.14,"k":"g"},{"x":-0.54,"y":0.15,"k":"g"},{"x":-0.48,"y":0.16,"k":"g"},{"x":-0.42,"y":0.14,"k":"g"},{"x":-0.36,"y":0.15,"k":"g"},{"x":-0.3,"y":0.16,"k":"g"},{"x":-0.24,"y":0.14,"k":"g"},{"x":-0.17,"y":0.15,"k":"g"},{"x":-0.1,"y":0.16,"k":"g"},{"x":-0.03,"y":0.14,"k":"g"},{"x":0.05,"y":0.15,"k":"g"},{"x":0.13,"y":0.16,"k":"g"},{"x":0.22,"y":0.14,"k":"g"},{"x":0.32,"y":0.15,"k":"g"},{"x":0.43,"y":0.16,"k":"g"},{"x":0.55,"y":0.14,"k":"g"},{"x":0.66,"y":0.15,"k":"g"},{"x":0.72,"y":0.13,"k":"g"},
  {"x":-1.2,"y":0.1,"k":"g"},{"x":-0.9,"y":0.11,"k":"g"},{"x":-0.72,"y":0.09,"k":"g"},{"x":-0.6,"y":0.1,"k":"g"},{"x":-0.5,"y":0.11,"k":"g"},{"x":-0.42,"y":0.09,"k":"g"},{"x":-0.35,"y":0.1,"k":"g"},{"x":-0.28,"y":0.11,"k":"g"},{"x":-0.21,"y":0.09,"k":"g"},{"x":-0.14,"y":0.1,"k":"g"},{"x":-0.07,"y":0.11,"k":"g"},{"x":0.0,"y":0.09,"k":"g"},{"x":0.08,"y":0.1,"k":"g"},{"x":0.16,"y":0.11,"k":"g"},{"x":0.25,"y":0.09,"k":"g"},{"x":0.35,"y":0.1,"k":"g"},{"x":0.46,"y":0.11,"k":"g"},{"x":0.58,"y":0.09,"k":"g"},{"x":0.7,"y":0.1,"k":"g"},{"x":0.84,"y":0.09,"k":"g"},
  {"x":-0.8,"y":0.06,"k":"g"},{"x":-0.55,"y":0.07,"k":"g"},{"x":-0.4,"y":0.05,"k":"g"},{"x":-0.28,"y":0.06,"k":"g"},{"x":-0.18,"y":0.07,"k":"g"},{"x":-0.09,"y":0.05,"k":"g"},{"x":0.0,"y":0.06,"k":"g"},{"x":0.09,"y":0.07,"k":"g"},{"x":0.18,"y":0.05,"k":"g"},{"x":0.28,"y":0.06,"k":"g"},{"x":0.38,"y":0.07,"k":"g"},{"x":0.49,"y":0.05,"k":"g"},{"x":0.6,"y":0.06,"k":"g"},{"x":0.72,"y":0.05,"k":"g"},{"x":0.85,"y":0.06,"k":"g"},{"x":0.97,"y":0.05,"k":"g"},
  {"x":-0.3,"y":0.03,"k":"g"},{"x":-0.1,"y":0.03,"k":"g"},{"x":0.05,"y":0.035,"k":"g"},{"x":0.2,"y":0.03,"k":"g"},{"x":0.35,"y":0.035,"k":"g"},{"x":0.5,"y":0.03,"k":"g"},{"x":0.65,"y":0.035,"k":"g"},{"x":0.8,"y":0.03,"k":"g"},{"x":0.95,"y":0.025,"k":"g"},{"x":1.05,"y":0.03,"k":"g"},{"x":1.2,"y":0.02,"k":"g"},
  {"x":0.3,"y":0.01,"k":"g"},{"x":0.5,"y":0.012,"k":"g"},{"x":0.7,"y":0.01,"k":"g"},{"x":0.9,"y":0.012,"k":"g"},{"x":1.05,"y":0.01,"k":"g"},{"x":1.2,"y":0.01,"k":"g"},{"x":1.35,"y":0.012,"k":"g"},{"x":1.5,"y":0.01,"k":"g"},{"x":1.62,"y":0.012,"k":"g"},{"x":1.7,"y":0.008,"k":"g"},{"x":2.21,"y":0.005,"k":"g"},
  {"x":-3.03,"y":1.21,"k":"g"},{"x":-2.42,"y":1.25,"k":"g"},{"x":-2.38,"y":1.18,"k":"g"},{"x":-2.34,"y":1.1,"k":"g"},{"x":-2.26,"y":1.05,"k":"g"},{"x":-2.2,"y":1.15,"k":"g"},{"x":-2.5,"y":0.75,"k":"g"},{"x":-2.19,"y":0.76,"k":"g"},{"x":-2.34,"y":0.61,"k":"g"},{"x":-2.38,"y":0.49,"k":"g"},{"x":-1.98,"y":0.95,"k":"g"},{"x":-2.0,"y":1.2,"k":"g"},{"x":-2.52,"y":2.26,"k":"g"},{"x":-1.9,"y":1.98,"k":"g"},{"x":-2.0,"y":1.55,"k":"g"},
  {"x":-3.62,"y":2.46,"k":"l"},{"x":-2.81,"y":2.41,"k":"l"},{"x":-2.67,"y":2.4,"k":"l"},{"x":-2.58,"y":2.4,"k":"l"},{"x":-3.13,"y":2.3,"k":"l"},{"x":-3.45,"y":2.45,"k":"l"},{"x":-2.62,"y":2.26,"k":"l"},
  {"x":-2.28,"y":2.22,"k":"l"},{"x":-2.71,"y":2.2,"k":"l"},{"x":-2.05,"y":2.15,"k":"l"},
  {"x":-2.23,"y":2.09,"k":"l"},{"x":-2.55,"y":2.05,"k":"l"},{"x":-2.05,"y":2.1,"k":"l"},{"x":-1.98,"y":2.06,"k":"l"},{"x":-2.85,"y":2.15,"k":"l"},{"x":-2.1,"y":2.02,"k":"l"},
  {"x":-2.35,"y":2.0,"k":"l"},{"x":-2.15,"y":1.98,"k":"l"},{"x":-1.95,"y":2.0,"k":"l"},{"x":-1.88,"y":1.97,"k":"l"},{"x":-2.62,"y":1.95,"k":"l"},{"x":-2.45,"y":1.95,"k":"l"},{"x":-1.8,"y":1.95,"k":"l"},
  {"x":-2.05,"y":1.92,"k":"l"},{"x":-1.9,"y":1.9,"k":"l"},{"x":-1.75,"y":1.9,"k":"l"},{"x":-1.68,"y":1.88,"k":"l"},{"x":-2.55,"y":1.88,"k":"l"},{"x":-2.3,"y":1.88,"k":"l"},{"x":-1.6,"y":1.86,"k":"l"},{"x":-1.55,"y":1.84,"k":"l"},
  {"x":-2.2,"y":1.82,"k":"l"},{"x":-2.0,"y":1.8,"k":"l"},{"x":-1.85,"y":1.82,"k":"l"},{"x":-1.72,"y":1.8,"k":"l"},{"x":-1.62,"y":1.78,"k":"l"},{"x":-1.5,"y":1.8,"k":"l"},{"x":-1.45,"y":1.76,"k":"l"},{"x":-2.45,"y":1.78,"k":"l"},{"x":-2.6,"y":1.76,"k":"l"},
  {"x":-2.35,"y":1.7,"k":"l"},{"x":-2.1,"y":1.72,"k":"l"},{"x":-1.95,"y":1.7,"k":"l"},{"x":-1.82,"y":1.72,"k":"l"},{"x":-1.7,"y":1.68,"k":"l"},{"x":-1.58,"y":1.7,"k":"l"},{"x":-1.48,"y":1.72,"k":"l"},{"x":-1.42,"y":1.68,"k":"l"},{"x":-1.38,"y":1.7,"k":"l"},
  {"x":-2.5,"y":1.62,"k":"l"},{"x":-2.3,"y":1.6,"k":"l"},{"x":-2.02,"y":1.62,"k":"l"},{"x":-1.9,"y":1.6,"k":"l"},{"x":-1.78,"y":1.62,"k":"l"},{"x":-1.65,"y":1.58,"k":"l"},{"x":-1.55,"y":1.6,"k":"l"},{"x":-1.45,"y":1.62,"k":"l"},{"x":-1.38,"y":1.58,"k":"l"},{"x":-1.35,"y":1.62,"k":"l"},
  {"x":-2.38,"y":1.52,"k":"l"},{"x":-2.25,"y":1.5,"k":"l"},{"x":-1.98,"y":1.52,"k":"l"},{"x":-1.85,"y":1.5,"k":"l"},{"x":-1.72,"y":1.48,"k":"l"},{"x":-1.6,"y":1.5,"k":"l"},{"x":-1.5,"y":1.52,"k":"l"},{"x":-1.42,"y":1.48,"k":"l"},{"x":-1.38,"y":1.52,"k":"l"},
  {"x":-2.3,"y":1.45,"k":"l"},{"x":-2.05,"y":1.42,"k":"l"},{"x":-1.92,"y":1.4,"k":"l"},{"x":-1.78,"y":1.42,"k":"l"},{"x":-1.65,"y":1.38,"k":"l"},{"x":-1.55,"y":1.4,"k":"l"},{"x":-1.47,"y":1.42,"k":"l"},{"x":-1.4,"y":1.38,"k":"l"},
  {"x":-1.88,"y":1.32,"k":"l"},{"x":-1.8,"y":1.34,"k":"l"},{"x":-1.65,"y":1.32,"k":"l"},{"x":-1.58,"y":1.33,"k":"l"},{"x":-1.5,"y":1.31,"k":"l"},{"x":-1.45,"y":1.34,"k":"l"},
  {"x":-2.58,"y":1.98,"k":"l"},{"x":-2.5,"y":1.85,"k":"l"},{"x":-2.55,"y":1.7,"k":"l"},{"x":-2.42,"y":1.65,"k":"l"},{"x":-2.45,"y":1.5,"k":"l"},
  {"x":-3.34,"y":2.675,"k":"h"},{"x":-3.33,"y":2.57,"k":"h"},{"x":-3.54,"y":2.51,"k":"h"},{"x":-3.27,"y":2.49,"k":"h"},{"x":-2.94,"y":2.51,"k":"h"},{"x":-3.98,"y":2.35,"k":"h"},{"x":-3.64,"y":2.25,"k":"h"},{"x":-3.01,"y":2.21,"k":"h"},{"x":-2.99,"y":2.09,"k":"h"},{"x":-2.79,"y":2.0,"k":"h"},{"x":-2.44,"y":2.15,"k":"h"},{"x":-2.08,"y":2.08,"k":"h"},{"x":-2.44,"y":1.86,"k":"h"},{"x":-2.44,"y":1.81,"k":"h"},{"x":-2.92,"y":1.72,"k":"h"},{"x":-2.64,"y":1.7,"k":"h"},{"x":-2.1,"y":1.64,"k":"h"},{"x":-2.15,"y":1.57,"k":"h"}
 ]
},
"resolve":{"scale":{"color":"independent"},"legend":{"color":"independent"}},
"spacing":24,
"hconcat":[
 {
  "title":{"text":"a","anchor":"start","frame":"bounds","fontSize":30,"fontWeight":"bold","offset":0,"dx":-25},
  "spacing":9,
  "resolve":{"scale":{"color":"independent"},"legend":{"color":"independent"}},
  "vconcat":[
   {"width":504,"height":188,
    "encoding":{
     "x":{"field":"x","type":"quantitative","scale":{"domain":[0,100],"nice":false},"axis":{"values":[0,20,40,60,80,100],"labelOverlap":false,"labelSeparation":0,"title":"% sgRNAs","titleFontSize":26,"tickSize":12,"labelPadding":14,"titlePadding":4}},
     "y":{"field":"y","type":"quantitative","scale":{"domain":[0,100],"nice":false},"axis":{"values":[0,20,40,60,80,100],"labelOverlap":false,"labelSeparation":0,"title":"% Sequence reads","titleFontSize":26,"tickSize":11,"labelPadding":11,"titlePadding":3}}},
    "layer":[
     {"data":{"name":"diag"},"mark":{"type":"line","color":"black","strokeWidth":1}},
     {"data":{"name":"curves"},"transform":[{"filter":"datum.p==='S1'"}],"mark":{"type":"line","strokeWidth":4.5,"interpolate":"monotone"},
      "encoding":{
       "color":{"field":"s","type":"nominal","scale":{"domain":["Library","Early passage HFF","HFF control","Naïve BMDM","IFN γ BMDM"],"range":["#BEBEBE","#87CEEB","#000080","#FFA500","#FF0000"]},
        "legend":{"title":null,"orient":"top-left","offset":2,"padding":0,"symbolType":"M-1.4,0H1.4","symbolSize":576,"symbolStrokeWidth":4.5,"symbolOffset":12,"labelOffset":16,"labelFontSize":17,"rowPadding":0}}}},
     {"data":{"values":[{}]},"mark":{"type":"text","fontSize":28,"align":"center","baseline":"middle"},"encoding":{"x":{"datum":56},"y":{"datum":88.7},"text":{"value":"S1"}}}
    ]},
   {"width":504,"height":188,
    "encoding":{
     "x":{"field":"x","type":"quantitative","scale":{"domain":[0,100],"nice":false},"axis":{"values":[0,20,40,60,80,100],"labelOverlap":false,"labelSeparation":0,"title":"% sgRNAs","titleFontSize":26,"tickSize":12,"labelPadding":14,"titlePadding":4}},
     "y":{"field":"y","type":"quantitative","scale":{"domain":[0,100],"nice":false},"axis":{"values":[0,20,40,60,80,100],"labelOverlap":false,"labelSeparation":0,"title":"% Sequence reads","titleFontSize":26,"tickSize":11,"labelPadding":11,"titlePadding":3}}},
    "layer":[
     {"data":{"name":"diag"},"mark":{"type":"line","color":"black","strokeWidth":1}},
     {"data":{"name":"curves"},"transform":[{"filter":"datum.p==='S2'"}],"mark":{"type":"line","strokeWidth":4.5,"interpolate":"monotone"},
      "encoding":{
       "color":{"field":"s","type":"nominal","scale":{"domain":["Library","Early passage HFF","HFF control","Naïve BMDM","IFN γ BMDM"],"range":["#BEBEBE","#87CEEB","#000080","#FFA500","#FF0000"]},
        "legend":{"title":null,"orient":"top-left","offset":2,"padding":0,"symbolType":"M-1.4,0H1.4","symbolSize":576,"symbolStrokeWidth":4.5,"symbolOffset":12,"labelOffset":16,"labelFontSize":17,"rowPadding":0}}}},
     {"data":{"values":[{}]},"mark":{"type":"text","fontSize":28,"align":"center","baseline":"middle"},"encoding":{"x":{"datum":56},"y":{"datum":88.7},"text":{"value":"S2"}}}
    ]},
   {"width":504,"height":188,
    "encoding":{
     "x":{"field":"x","type":"quantitative","scale":{"domain":[0,100],"nice":false},"axis":{"values":[0,20,40,60,80,100],"labelOverlap":false,"labelSeparation":0,"title":"% sgRNAs","titleFontSize":26,"tickSize":12,"labelPadding":14,"titlePadding":4}},
     "y":{"field":"y","type":"quantitative","scale":{"domain":[0,100],"nice":false},"axis":{"values":[0,20,40,60,80,100],"labelOverlap":false,"labelSeparation":0,"title":"% Sequence reads","titleFontSize":26,"tickSize":11,"labelPadding":11,"titlePadding":3}}},
    "layer":[
     {"data":{"name":"diag"},"mark":{"type":"line","color":"black","strokeWidth":1}},
     {"data":{"name":"curves"},"transform":[{"filter":"datum.p==='S3'"}],"mark":{"type":"line","strokeWidth":4.5,"interpolate":"monotone"},
      "encoding":{
       "color":{"field":"s","type":"nominal","scale":{"domain":["Library","Early passage HFF","HFF control","Naïve BMDM","IFNγ BMDM"],"range":["#BEBEBE","#87CEEB","#000080","#FFA500","#FF0000"]},
        "legend":{"title":null,"orient":"top-left","offset":2,"padding":0,"symbolType":"M-1.4,0H1.4","symbolSize":576,"symbolStrokeWidth":4.5,"symbolOffset":12,"labelOffset":16,"labelFontSize":17,"rowPadding":0}}}},
     {"data":{"values":[{}]},"mark":{"type":"text","fontSize":28,"align":"center","baseline":"middle"},"encoding":{"x":{"datum":56},"y":{"datum":88.7},"text":{"value":"S3"}}}
    ]}
  ]
 },
 {
  "title":{"text":"b","anchor":"start","frame":"bounds","fontSize":30,"fontWeight":"bold","offset":7.5,"dx":0},
  "spacing":16,
  "vconcat":[
   {"width":498,"height":331,
    "layer":[
     {"data":{"name":"b"},"transform":[{"filter":"datum.k==='g'"}],"mark":{"type":"circle","size":24,"color":"#A0A0A6","opacity":1},
      "encoding":{
       "x":{"field":"x","type":"quantitative","scale":{"domain":[-6,4],"nice":false,"zero":false},"axis":{"values":[-6,-4,-2,0,2,4],"format":"d","labelOverlap":false,"title":"Mean fitness (Naïve BMDM vs. HFF control)","titleFontSize":23,"tickSize":8,"labelPadding":2,"titlePadding":2}},
       "y":{"field":"y","type":"quantitative","scale":{"domain":[-0.13,3.42],"nice":false,"zero":false},"axis":{"values":[0,0.5,1,1.5,2,2.5,3],"format":".1f","labelOverlap":false,"title":"-Log₁₀(p-value)","titleFontSize":25,"tickSize":13,"labelPadding":2,"titlePadding":9}}}},
     {"data":{"name":"b"},"transform":[{"filter":"datum.k==='l'"}],"mark":{"type":"circle","size":32,"color":"#FDBF80","opacity":1},
      "encoding":{"x":{"field":"x","type":"quantitative"},"y":{"field":"y","type":"quantitative"}}},
     {"data":{"name":"b"},"transform":[{"filter":"datum.k==='h'"}],"mark":{"type":"circle","size":135,"color":"#F47C00","opacity":1},
      "encoding":{"x":{"field":"x","type":"quantitative"},"y":{"field":"y","type":"quantitative"}}},
     {"data":{"values":[{}]},"mark":{"type":"rule","strokeDash":[1.5,2],"color":"#444","strokeWidth":1.2},"encoding":{"y":{"datum":1.3}}},
     {"data":{"values":[{}]},"mark":{"type":"text","fontSize":20,"align":"left","baseline":"middle"},"encoding":{"x":{"datum":-5.74},"y":{"datum":3.2},"text":{"value":"193 genes"}}}
    ]},
   {"width":498,"height":331,
    "title":{"text":"c","anchor":"start","frame":"bounds","fontSize":30,"fontWeight":"bold","offset":6,"dx":-26},
    "layer":[
     {"data":{"name":"c"},"transform":[{"filter":"datum.k==='g'"}],"mark":{"type":"circle","size":24,"color":"#A0A0A6","opacity":1},
      "encoding":{
       "x":{"field":"x","type":"quantitative","scale":{"domain":[-5.49,2.48],"nice":false,"zero":false},"axis":{"values":[-5,-4,-3,-2,-1,0,1,2],"format":"d","labelOverlap":false,"title":"Mean fitness (IFNγ vs. Naïve BMDM)","titleFontSize":23,"tickSize":11,"labelPadding":9,"titlePadding":9}},
       "y":{"field":"y","type":"quantitative","scale":{"domain":[-0.18,3.2],"nice":false,"zero":false},"axis":{"values":[0,0.5,1,1.5,2,2.5,3],"format":".1f","labelOverlap":false,"title":"-Log₁₀(p-value)","titleFontSize":25,"tickSize":11,"labelPadding":4,"titlePadding":9}}}},
     {"data":{"name":"c"},"transform":[{"filter":"datum.k==='l'"}],"mark":{"type":"circle","size":38,"color":"#F8A3A3","opacity":1},
      "encoding":{"x":{"field":"x","type":"quantitative"},"y":{"field":"y","type":"quantitative"}}},
     {"data":{"name":"c"},"transform":[{"filter":"datum.k==='h'"}],"mark":{"type":"circle","size":120,"color":"#EE3B3B","opacity":1},
      "encoding":{"x":{"field":"x","type":"quantitative"},"y":{"field":"y","type":"quantitative"}}},
     {"data":{"values":[{}]},"mark":{"type":"rule","strokeDash":[1.5,2],"color":"#444","strokeWidth":1.2},"encoding":{"y":{"datum":1.3}}},
     {"data":{"values":[{}]},"mark":{"type":"text","fontSize":20,"align":"left","baseline":"middle"},"encoding":{"x":{"datum":-5.25},"y":{"datum":2.97},"text":{"value":"160 genes"}}}
    ]}
  ]
 }
]
}
